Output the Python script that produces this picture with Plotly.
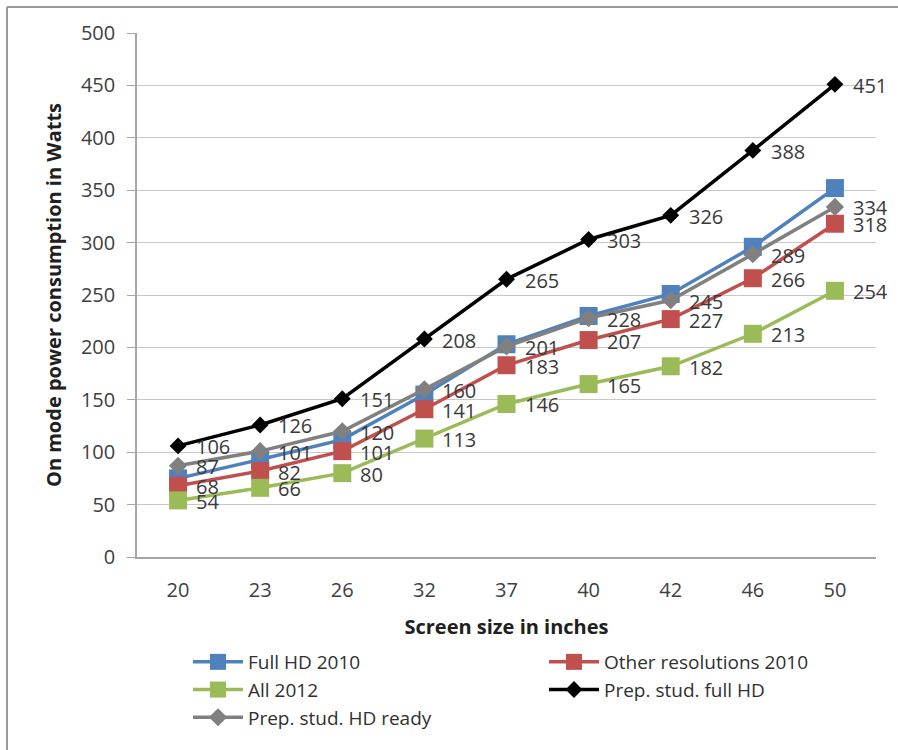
import plotly.graph_objects as go

# Screen sizes (inches) on the category axis
screen_sizes = ["20", "23", "26", "32", "37", "40", "42", "46", "50"]

# On-mode power consumption in Watts per series
full_hd_2010 = [75, 93, 112, 155, 203, 230, 251, 296, 352]
other_res_2010 = [68, 82, 101, 141, 183, 207, 227, 266, 318]
all_2012 = [54, 66, 80, 113, 146, 165, 182, 213, 254]
prep_full_hd = [106, 126, 151, 208, 265, 303, 326, 388, 451]
prep_hd_ready = [87, 101, 120, 160, 201, 228, 245, 289, 334]

y_ticks = [0, 50, 100, 150, 200, 250, 300, 350, 400, 450, 500]

FONT = "Open Sans"
LABEL_COLOR = "#3a3a3a"

W, H = 898, 750
L, R, T, B = 137, 22, 33, 193
PW, PH = W - L - R, H - T - B

fig = go.Figure()

series = [
    ("Full HD 2010", full_hd_2010, "#4F81BD", "square", 18, False),
    ("Other resolutions 2010", other_res_2010, "#C0504D", "square", 18, True),
    ("All 2012", all_2012, "#9BBB59", "square", 18, True),
    ("Prep. stud. full HD", prep_full_hd, "#000000", "diamond", 13, True),
    ("Prep. stud. HD ready", prep_hd_ready, "#808080", "diamond", 14, True),
]

for name, vals, color, symbol, size, labelled in series:
    fig.add_trace(go.Scatter(
        x=screen_sizes,
        y=vals,
        name=name,
        mode="lines+markers",
        line=dict(color=color, width=3.5),
        marker=dict(color=color, symbol=symbol, size=size),
        cliponaxis=False,
    ))
    if labelled:
        # value labels sit to the right of each point (x given as category index)
        for idx, v in enumerate(vals):
            fig.add_annotation(
                x=idx, y=v, text=str(v), showarrow=False,
                xref="x", yref="y",
                xanchor="left", yanchor="middle", xshift=16, yshift=-1,
                font=dict(family=FONT, size=20, color=LABEL_COLOR),
            )

# Thin frame around the chart area (top and left edges)
fy_top = 1 + (T - 7) / PH
fy_bot = -(H - T - PH) / PH - 0.05
fx_left = (7 - L) / PW
fx_right = (W - L) / PW + 0.05
fig.add_shape(type="line", xref="paper", yref="paper",
              x0=fx_left, x1=fx_right, y0=fy_top, y1=fy_top,
              line=dict(color="#9a9a9a", width=2))
fig.add_shape(type="line", xref="paper", yref="paper",
              x0=fx_left, x1=fx_left, y0=fy_top, y1=fy_bot,
              line=dict(color="#9a9a9a", width=2))

fig.update_layout(
    width=W,
    height=H,
    margin=dict(l=L, r=R, t=T, b=B, autoexpand=False),
    paper_bgcolor="white",
    plot_bgcolor="white",
    font=dict(family=FONT, color="#404040"),
    showlegend=True,
    legend=dict(
        orientation="h",
        xref="container",
        yref="container",
        x=188 / W,
        xanchor="left",
        y=1 - 643 / H,
        yanchor="top",
        entrywidth=291,
        entrywidthmode="pixels",
        itemwidth=50,
        font=dict(family=FONT, size=19, color="#303030"),
        traceorder="normal",
        bgcolor="rgba(0,0,0,0)",
    ),
    xaxis=dict(
        type="category",
        title=dict(text="<b>Screen size in inches</b>",
                   font=dict(family=FONT, size=20, color="#202020"),
                   standoff=18),
        showgrid=False,
        showline=True,
        linecolor="#a6a6a6",
        linewidth=1.5,
        ticks="",
        tickfont=dict(family=FONT, size=20, color="#404040"),
        ticklabelstandoff=14,
        range=[-0.5, 8.5],
    ),
    yaxis=dict(
        title=dict(text="<b>On mode power consumption in Watts</b>",
                   font=dict(family=FONT, size=20, color="#202020"),
                   standoff=14),
        range=[0, 500],
        tickvals=y_ticks,
        showgrid=True,
        gridcolor="#c8c8c8",
        gridwidth=1,
        showline=True,
        linecolor="#a6a6a6",
        linewidth=1.5,
        ticks="outside",
        ticklen=8,
        tickcolor="#a6a6a6",
        tickfont=dict(family=FONT, size=20, color="#404040"),
        ticklabelstandoff=8,
        zeroline=False,
    ),
)

fig.write_html("out.html")
